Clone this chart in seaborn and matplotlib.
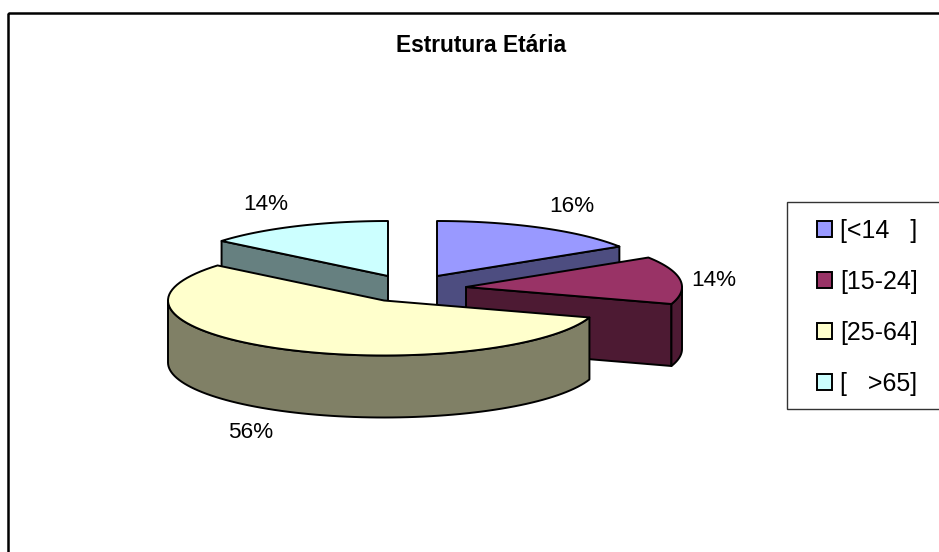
import numpy as np
import matplotlib
matplotlib.use("Agg")
import matplotlib.pyplot as plt
from matplotlib.patches import Patch, Rectangle
import seaborn as sns

# data
categories = ["[<14   ]", "[15-24]", "[25-64]", "[   >65]"]
shares = [16, 14, 56, 14]
share_labels = ["16%", "14%", "56%", "14%"]
top_colors = ["#9999FF", "#993366", "#FFFFCC", "#CCFFFF"]

sns.set_theme(style="white")
plt.rcParams["font.family"] = ["Liberation Sans", "DejaVu Sans"]

W, H = 939, 552
RX, RY, DEPTH = 216, 55, 62
# exploded centre of each slice, in pixels
centres = [(437, 276), (466, 287), (384, 300.5), (388, 276)]
label_pos = [(572, 207), (714, 281), (251, 432), (266, 205)]
draw_order = [0, 3, 1, 2]
LW = 1.4

top_pal = sns.color_palette(top_colors)
side_pal = [tuple(c * 0.5 for c in col) for col in top_pal]

fig = plt.figure(figsize=(W / 100, H / 100), dpi=100)
ax = fig.add_axes([0, 0, 1, 1])
ax.set_xlim(0, W)
ax.set_ylim(H, 0)
ax.axis("off")

# chart frame, runs off the right and bottom of the picture
ax.add_patch(Rectangle((8, 12.5), W, H, fill=False, ec="black", lw=1.8))

edges = np.cumsum([0] + shares) / sum(shares) * 360


def arc(cx, cy, a0, a1):
    t = np.radians(np.linspace(a0, a1, 80))
    return cx + RX * np.sin(t), cy - RY * np.cos(t)


def extrude(xs, ys, col):
    xs, ys = np.asarray(xs), np.asarray(ys)
    ax.fill(np.r_[xs, xs[::-1]], np.r_[ys, ys[::-1] + DEPTH],
            fc=col, ec="black", lw=LW, joinstyle="round")


for i in draw_order:
    cx, cy = centres[i]
    a0, a1 = edges[i], edges[i + 1]
    xs, ys = arc(cx, cy, a0, a1)

    # flat cut faces that look at the viewer
    if a1 <= 180:
        extrude([cx, xs[-1]], [cy, ys[-1]], side_pal[i])
    if a0 >= 180:
        extrude([cx, xs[0]], [cy, ys[0]], side_pal[i])

    # outer wall, only the front half of the ellipse
    lo, hi = max(a0, 90), min(a1, 270)
    if lo < hi:
        wx, wy = arc(cx, cy, lo, hi)
        extrude(wx, wy, side_pal[i])

    ax.fill(np.r_[cx, xs], np.r_[cy, ys], fc=top_pal[i], ec="black", lw=LW, joinstyle="round")

for (x, y), txt in zip(label_pos, share_labels):
    ax.text(x, y, txt, ha="center", va="center", fontsize=16.2, color="black")

ax.text(481, 46, "Estrutura Etária", ha="center", va="center", fontsize=16.4,
        fontweight="bold", color="black")

# legend box, also cut by the right edge
ax.add_patch(Rectangle((787, 202), W, 206.5, fc="white", ec="#333333", lw=1.0))
handles = [Patch(fc=c, ec="black", lw=1.4) for c in top_pal]
leg = ax.legend(handles, categories, loc="upper left", bbox_to_anchor=(817, 219),
                bbox_transform=ax.transData, fontsize=18, frameon=False,
                handlelength=0.6, handleheight=0.6, handletextpad=0.33,
                labelspacing=1.08, borderpad=0, borderaxespad=0)
for t in leg.get_texts():
    t.set_color("black")

fig.savefig("out.png", dpi=100)
